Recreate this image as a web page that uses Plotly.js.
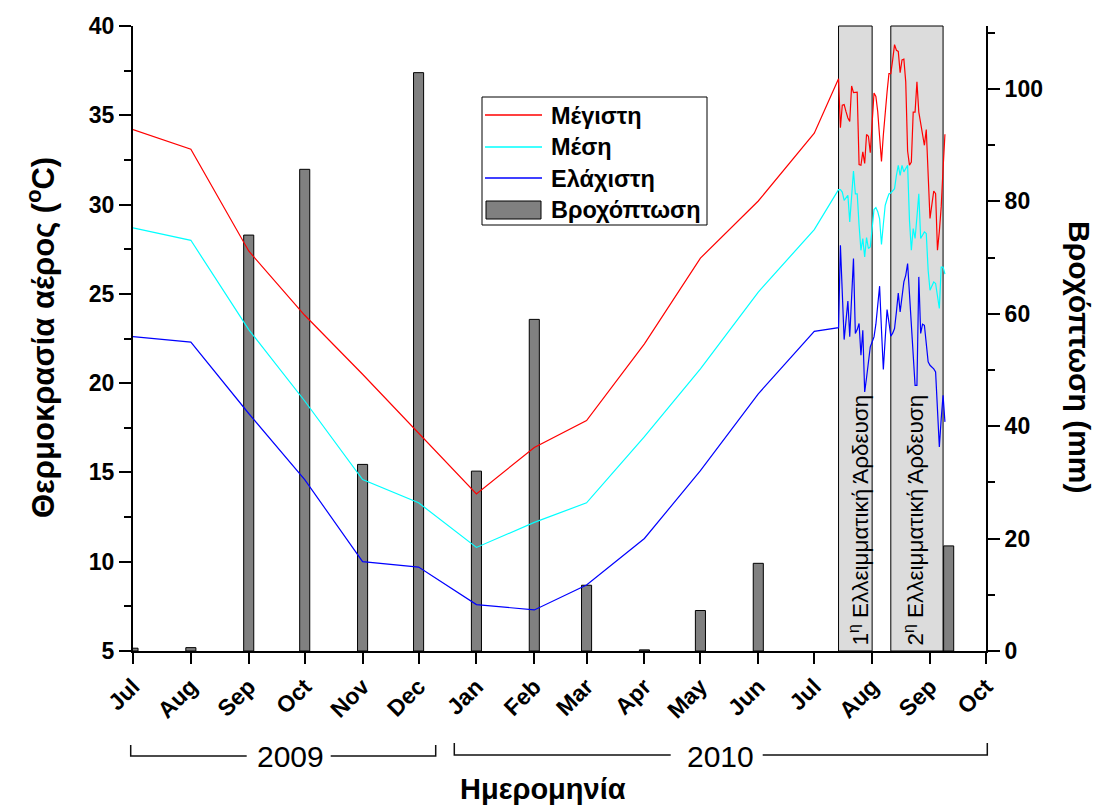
<!DOCTYPE html>
<html>
<head>
<meta charset="utf-8">
<script src="https://cdn.plot.ly/plotly-3.0.1.min.js"></script>
<style>body{margin:0;background:#fff}#chart{width:1098px;height:807px}</style>
</head>
<body>
<div id="chart"></div>
<script>
// ---------- DATA ----------
const monthTickDates = ['2009-07-01','2009-08-01','2009-09-01','2009-10-01','2009-11-01','2009-12-01','2010-01-01','2010-02-01','2010-03-01','2010-04-01','2010-05-01','2010-06-01','2010-07-01','2010-08-01','2010-09-01','2010-10-01'];
const monthTickLabels = ['Jul','Aug','Sep','Oct','Nov','Dec','Jan','Feb','Mar','Apr','May','Jun','Jul','Aug','Sep','Oct'];

const monthlyDates = ['2009-07-01','2009-08-01','2009-09-01','2009-10-01','2009-11-01','2009-12-01','2010-01-01','2010-02-01','2010-03-01','2010-04-01','2010-05-01','2010-06-01','2010-07-01'];
const maxMonthly  = [34.2, 33.1, 27.4, 23.8, 20.5, 17.2, 13.8, 16.4, 17.9, 22.2, 27.0, 30.2, 34.0];
const meanMonthly = [28.7, 28.0, 23.0, 19.0, 14.6, 13.3, 10.8, 12.2, 13.3, 17.0, 20.8, 25.1, 28.6];
const minMonthly  = [22.6, 22.3, 18.3, 14.6, 10.0,  9.7,  7.6,  7.3,  8.7, 11.3, 15.1, 19.4, 22.9];

const dailyStart = '2010-07-14';
const maxDaily = [37.05,34.3,35.56,35.6,35.2,34.85,34.66,36.64,36.27,36.3,36.3,32.24,32.2,32.95,32.3,33.92,33.83,32.9,34.5,36.25,36.06,35.2,33.8,32.42,33.9,35.37,36.3,37.33,37.33,38.1,38.96,38.64,38.58,37.39,38.1,38.14,36.87,33.0,32.2,32.38,35.18,35.18,36.87,35.18,34.5,33.88,33.32,34.2,31.5,29.22,30.0,30.76,30.61,27.44,28.5,29.87,32.0,33.94];
const meanDaily = [30.84,30.84,30.7,30.24,30.4,30.52,29.03,30.6,31.88,30.6,30.6,28.84,27.44,28.1,27.07,28.15,27.54,27.63,28.7,29.72,29.83,29.6,29.2,27.76,28.9,29.96,30.3,30.6,30.65,30.8,30.89,31.64,32.2,31.64,32.2,31.83,32.0,32.2,29.12,27.44,28.66,28.1,29.3,30.6,28.1,28.3,28.47,28.38,26.32,25.2,25.4,25.67,25.58,24.9,24.18,26.5,26.5,26.1];
const minDaily  = [23.11,27.72,25.0,22.44,23.5,24.6,22.6,24.8,26.98,22.78,23.0,23.34,21.56,22.96,19.51,20.3,21.1,22.03,22.3,22.59,23.3,24.4,25.43,23.0,20.76,22.5,24.12,23.4,22.63,22.8,23.06,23.99,25.05,23.99,24.8,25.67,26.04,26.7,25.0,23.43,21.6,19.88,19.88,25.95,22.78,23.3,23.24,22.0,21.19,21.0,20.91,20.8,20.63,18.5,16.43,18.0,19.32,17.83];

const rainDates  = ['2009-07-01','2009-08-01','2009-09-01','2009-10-01','2009-11-01','2009-12-01','2010-01-01','2010-02-01','2010-03-01','2010-04-01','2010-05-01','2010-06-01','2010-09-11'];
const rainValues = [0.5, 0.6, 74.0, 85.7, 33.2, 102.9, 32.0, 59.0, 11.7, 0.2, 7.2, 15.6, 18.7];

const irrigationPeriods = [['2010-07-14','2010-08-01'], ['2010-08-11','2010-09-08']];
const irrigationLabels = ['1<sup>η</sup> Ελλειμματική Άρδευση', '2<sup>η</sup> Ελλειμματική Άρδευση'];

const seriesNames = ['Μέγιστη', 'Μέση', 'Ελάχιστη', 'Βροχόπτωση'];
const seriesColors = ['#ff0000', '#00ffff', '#0000ff', '#808080'];

// ---------- helpers ----------
function dayList(start, n){
  const out=[]; const d0=new Date(start+'T00:00:00Z');
  for(let i=0;i<n;i++){ const d=new Date(d0.getTime()+i*86400000); out.push(d.toISOString().slice(0,10)); }
  return out;
}
const dailyDates = dayList(dailyStart, maxDaily.length);
const L=133, R=986, T=26, B=651;
const px = x => (x-L)/(R-L);
const py = y => (B-y)/(B-T);
const FONT = 'Liberation Sans, Arial, sans-serif';

// ---------- traces ----------
const traces = [
  {type:'bar', x:rainDates, y:rainValues, xaxis:'x', yaxis:'y', name:seriesNames[3],
   width:5.4*86400000, marker:{color:seriesColors[3], line:{color:'#000', width:1}}, showlegend:false},
  {type:'scatter', mode:'lines', x:monthlyDates.concat(dailyDates), y:maxMonthly.concat(maxDaily), yaxis:'y2', name:seriesNames[0], line:{color:seriesColors[0], width:1.2}, showlegend:false},
  {type:'scatter', mode:'lines', x:monthlyDates.concat(dailyDates), y:meanMonthly.concat(meanDaily), yaxis:'y2', name:seriesNames[1], line:{color:seriesColors[1], width:1.2}, showlegend:false},
  {type:'scatter', mode:'lines', x:monthlyDates.concat(dailyDates), y:minMonthly.concat(minDaily), yaxis:'y2', name:seriesNames[2], line:{color:seriesColors[2], width:1.2}, showlegend:false}
];

// ---------- shapes ----------
const shapes = [];
irrigationPeriods.forEach(p => shapes.push({type:'rect', xref:'x', yref:'paper', x0:p[0], x1:p[1], y0:0, y1:1,
  fillcolor:'#dcdcdc', line:{color:'#000', width:1}, layer:'below'}));
// year brackets
function pathPx(pts){ return pts.map((p,i)=>(i?'L':'M')+px(p[0])+','+py(p[1])).join(' '); }
[[[130.7,745],[130.7,756],[246.7,756]], [[330.7,756],[435.7,756],[435.7,745]],
 [[454.3,743],[454.3,755],[670.7,755]], [[762.7,755],[987.3,755],[987.3,743]]].forEach(pts =>
  shapes.push({type:'path', xref:'paper', yref:'paper', path:pathPx(pts), line:{color:'#111', width:1.5}}));
// legend box
shapes.push({type:'rect', xref:'paper', yref:'paper', x0:px(482), x1:px(707), y0:py(97), y1:py(225), fillcolor:'#fff', line:{color:'#000', width:1}});
[115,147,178].forEach((y,i)=> shapes.push({type:'line', xref:'paper', yref:'paper', x0:px(485), x1:px(542), y0:py(y), y1:py(y), line:{color:seriesColors[i], width:1.5}}));
shapes.push({type:'rect', xref:'paper', yref:'paper', x0:px(486), x1:px(541), y0:py(201), y1:py(219), fillcolor:seriesColors[3], line:{color:'#000', width:1}});

// ---------- annotations ----------
const ann = [];
function addText(x, y, text, size, bold, angle, xa, ya){
  ann.push({xref:'paper', yref:'paper', x:px(x), y:py(y), xanchor:xa||'center', yanchor:ya||'middle', textangle:angle||0,
    showarrow:false, text:text, font:{family:FONT, size:size, color:'#000', weight:bold?'bold':'normal'}});
}
const legY = [116,147,179,210];
seriesNames.forEach((n,i)=> addText(549, legY[i], n, 23.5, true, 0, 'left', 'middle'));
[858, 913].forEach((x,i)=> addText(x, 648, irrigationLabels[i], 22.5, false, -90, 'center', 'bottom'));
addText(290, 756, '2009', 30, false);
addText(720, 756, '2010', 30, false);
addText(543, 789, 'Ημερομηνία', 29, true);
addText(41, 338, 'Θερμοκρασία αέρος (<sup>o</sup>C)', 31, true, -90);
addText(1080, 357, 'Βροχόπτωση (mm)', 30, true, 90);

const tickFont = {family:FONT, size:23, color:'#000', weight:'bold'};
const xRange = [monthTickDates[0], monthTickDates[monthTickDates.length-1]];

const layout = {
  width:1098, height:807,
  margin:{l:L, r:1098-R, t:T, b:807-B},
  paper_bgcolor:'#fff', plot_bgcolor:'#fff',
  showlegend:false,
  bargap:0,
  xaxis:{type:'date', range:xRange, tickmode:'array', tickvals:monthTickDates, ticktext:monthTickLabels,
    tickangle:-45, ticks:'outside', ticklen:11, tickwidth:2, tickcolor:'#000', showline:true, linewidth:2, linecolor:'#000',
    showgrid:false, zeroline:false, tickfont:{family:FONT, size:23, color:'#000', weight:'bold'}, anchor:'y'},
  xaxis2:{type:'date', range:xRange, overlaying:'x', side:'top', anchor:'y', tickmode:'array', tickvals:monthTickDates,
    ticks:'inside', ticklen:12, tickwidth:2, tickcolor:'#000', showticklabels:false, showline:true, linewidth:2, linecolor:'#000', showgrid:false, zeroline:false},
  yaxis:{range:[0,111.2], side:'right', anchor:'x', tickmode:'array', tickvals:[0,20,40,60,80,100], ticks:'outside', ticklen:12, tickwidth:2, tickcolor:'#000',
    minor:{tickvals:[10,30,50,70,90,110], ticks:'outside', ticklen:7, tickwidth:2, tickcolor:'#000'},
    showline:true, linewidth:2, linecolor:'#000', showgrid:false, zeroline:false, tickfont:tickFont},
  yaxis2:{range:[5,40], side:'left', overlaying:'y', anchor:'x', tickmode:'array', tickvals:[5,10,15,20,25,30,35,40], ticks:'outside', ticklen:12, tickwidth:2, tickcolor:'#000',
    minor:{tickvals:[7.5,12.5,17.5,22.5,27.5,32.5,37.5], ticks:'outside', ticklen:7, tickwidth:2, tickcolor:'#000'},
    showline:true, linewidth:2, linecolor:'#000', showgrid:false, zeroline:false, tickfont:tickFont},
  shapes:shapes,
  annotations:ann
};

Plotly.newPlot('chart', traces, layout, {displayModeBar:false, staticPlot:true});
</script>
</body>
</html>
